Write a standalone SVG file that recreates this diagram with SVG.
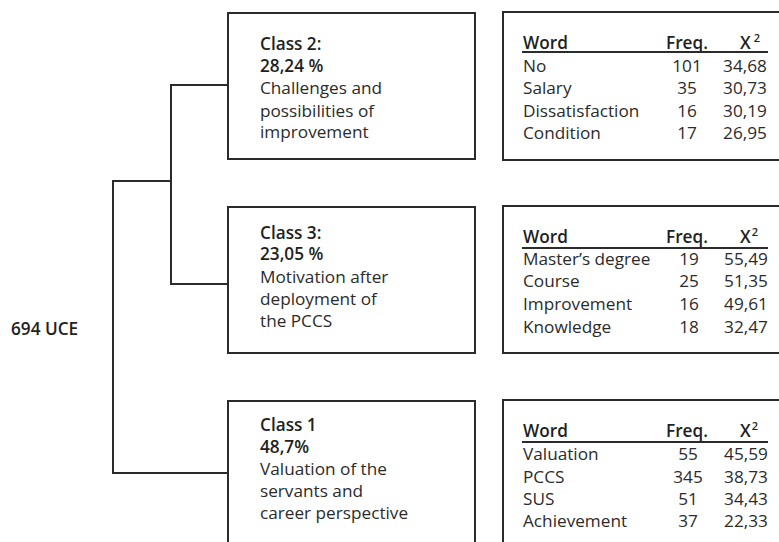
<svg xmlns="http://www.w3.org/2000/svg" width="779" height="542" viewBox="0 0 779 542">
<style>
text{font-family:"Open Sans","Liberation Sans",sans-serif;fill:#2b2b2b;font-size:17.2px}
.b{font-weight:600;fill:#231f20}
.box{fill:#fff;stroke:#2b2b2b;stroke-width:2}
.ln{fill:none;stroke:#2b2b2b;stroke-width:2}
.c{text-anchor:middle}
.sup{font-size:11px}
</style>
<rect width="779" height="542" fill="#fff"/>
<g id="connectors">
<path class="ln" d="M228,85 H171 V284 H228 M171,181 H113 V473 H228"/>
</g>
<g id="root"><text class="b" x="11" y="335" font-size="19">694 UCE</text></g>
<g id="class2">
<rect class="box" x="228" y="13" width="247" height="146"/>
<text class="b" x="260" y="50">Class 2:</text>
<text class="b" x="260" y="72">28,24 %</text>
<text x="260" y="94">Challenges and</text>
<text x="260" y="117">possibilities of</text>
<text x="260" y="138">improvement</text>
</g>
<g id="class3">
<rect class="box" x="228" y="207" width="247" height="146"/>
<text class="b" x="260" y="239">Class 3:</text>
<text class="b" x="260" y="260">23,05 %</text>
<text x="260" y="283">Motivation after</text>
<text x="260" y="305">deployment of</text>
<text x="260" y="327">the PCCS</text>
</g>
<g id="class1">
<rect class="box" x="228" y="401" width="247" height="160"/>
<text class="b" x="260" y="431">Class 1</text>
<text class="b" x="260" y="453">48,7%</text>
<text x="260" y="475">Valuation of the</text>
<text x="260" y="497">servants and</text>
<text x="260" y="519">career perspective</text>
</g>
<g id="table2">
<rect class="box" x="503" y="12" width="290" height="148"/>
<text class="b" x="523" y="49">Word</text>
<text class="b c" x="687" y="49">Freq.</text>
<text class="b" x="740" y="49">X<tspan class="sup" dx="3" dy="-7">2</tspan></text>
<line class="ln" x1="522" y1="52" x2="768" y2="52" stroke-width="1.5"/>
<text x="523" y="72">No</text><text class="c" x="687" y="72">101</text><text class="c" x="745" y="72">34,68</text>
<text x="523" y="94">Salary</text><text class="c" x="687" y="94">35</text><text class="c" x="745" y="94">30,73</text>
<text x="523" y="117">Dissatisfaction</text><text class="c" x="687" y="117">16</text><text class="c" x="745" y="117">30,19</text>
<text x="523" y="139">Condition</text><text class="c" x="687" y="139">17</text><text class="c" x="745" y="139">26,95</text>
</g>
<g id="table3">
<rect class="box" x="503" y="206" width="290" height="147"/>
<text class="b" x="523" y="243">Word</text>
<text class="b c" x="687" y="243">Freq.</text>
<text class="b" x="740" y="243">X<tspan class="sup" dx="1" dy="-7">2</tspan></text>
<line class="ln" x1="522" y1="248" x2="768" y2="248" stroke-width="1.5"/>
<text x="523" y="265">Master’s degree</text><text class="c" x="689" y="265">19</text><text class="c" x="746" y="265">55,49</text>
<text x="523" y="287">Course</text><text class="c" x="689" y="287">25</text><text class="c" x="746" y="287">51,35</text>
<text x="523" y="310">Improvement</text><text class="c" x="689" y="310">16</text><text class="c" x="746" y="310">49,61</text>
<text x="523" y="333">Knowledge</text><text class="c" x="689" y="333">18</text><text class="c" x="746" y="333">32,47</text>
</g>
<g id="table1">
<rect class="box" x="503" y="400" width="290" height="160"/>
<text class="b" x="523" y="437">Word</text>
<text class="b c" x="687" y="437">Freq.</text>
<text class="b" x="740" y="437">X<tspan class="sup" dx="1" dy="-7">2</tspan></text>
<line class="ln" x1="522" y1="442" x2="768" y2="442" stroke-width="1.5"/>
<text x="523" y="460">Valuation</text><text class="c" x="688" y="460">55</text><text class="c" x="746" y="460">45,59</text>
<text x="523" y="483">PCCS</text><text class="c" x="688" y="483">345</text><text class="c" x="746" y="483">38,73</text>
<text x="523" y="505">SUS</text><text class="c" x="688" y="505">51</text><text class="c" x="746" y="505">34,43</text>
<text x="523" y="527">Achievement</text><text class="c" x="688" y="527">37</text><text class="c" x="746" y="527">22,33</text>
</g>
</svg>
